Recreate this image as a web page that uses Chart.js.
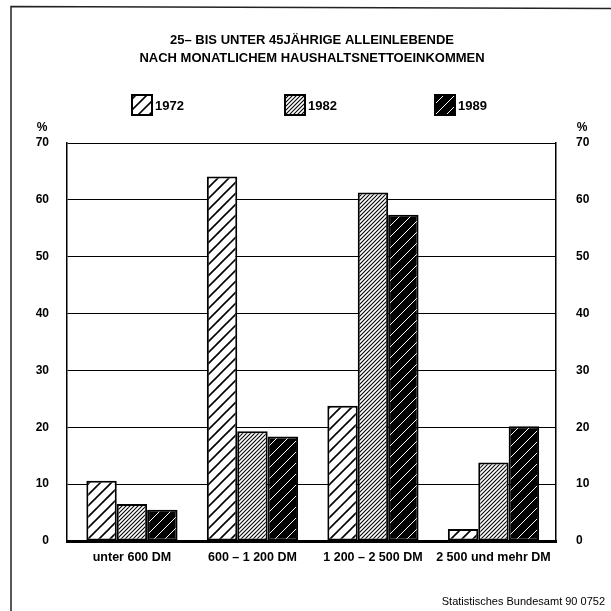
<!DOCTYPE html>
<html><head><meta charset="utf-8">
<script src="https://cdn.jsdelivr.net/npm/chart.js@4"></script>
<style>html,body{margin:0;padding:0;background:#fff;} canvas{display:block}</style>
</head><body>
<canvas id="c" width="611" height="611"></canvas>
<script>
const categories = ['unter 600 DM', '600 – 1 200 DM', '1 200 – 2 500 DM', '2 500 und mehr DM'];
const seriesNames = ['1972', '1982', '1989'];
const series1972 = [10.6, 64.1, 23.8, 2.1];
const series1982 = [6.5, 19.3, 61.3, 13.8];
const series1989 = [5.5, 18.4, 57.4, 20.2];
const yTicks = [0, 10, 20, 30, 40, 50, 60, 70];
const titleLines = ['25– BIS UNTER 45JÄHRIGE ALLEINLEBENDE', 'NACH MONATLICHEM HAUSHALTSNETTOEINKOMMEN'];
const unitLabel = '%';
const sourceText = 'Statistisches Bundesamt 90 0752';

const FAM = '"Liberation Sans", Arial, sans-serif';

function hatch(bg, fg, sp, lw, reps) {
  const T = sp * reps;
  const c = document.createElement('canvas');
  c.width = T; c.height = T;
  const g = c.getContext('2d');
  g.fillStyle = bg; g.fillRect(0, 0, T, T);
  g.strokeStyle = fg; g.lineWidth = lw;
  for (let k = -1; k <= 2 * reps + 1; k++) {
    const cc = k * sp;
    g.beginPath();
    g.moveTo(cc + 3, -3);
    g.lineTo(cc - T - 3, T + 3);
    g.stroke();
  }
  return document.createElement('canvas').getContext('2d').createPattern(c, 'repeat');
}
const patterns = [
  hatch('#ffffff', '#000000', 11, 1.6, 2),
  hatch('#ffffff', '#000000', 4, 1.1, 4),
  hatch('#000000', '#ffffff', 11, 1.0, 2)
];

const decor = {
  id: 'decor',
  beforeDraw(chart) {
    const ctx = chart.ctx;
    ctx.save();
    ctx.fillStyle = '#fff';
    ctx.fillRect(0, 0, chart.width, chart.height);
    ctx.restore();
  },
  afterDraw(chart) {
    const ctx = chart.ctx;
    ctx.save();
    // outer frame
    ctx.strokeStyle = '#222';
    ctx.lineWidth = 1.5;
    ctx.beginPath();
    ctx.moveTo(11, 611); ctx.lineTo(11, 6.5); ctx.lineTo(611, 8.5);
    ctx.stroke();
    // title
    ctx.fillStyle = '#000';
    ctx.font = 'bold 13px ' + FAM;
    ctx.textAlign = 'center';
    ctx.textBaseline = 'middle';
    ctx.fillText(titleLines[0], 312, 40);
    ctx.fillText(titleLines[1], 312, 58);
    // legend
    const lx = [132, 285, 435];
    ctx.font = 'bold 13px ' + FAM;
    ctx.textAlign = 'left';
    seriesNames.forEach((n, i) => {
      ctx.fillStyle = patterns[i];
      ctx.fillRect(lx[i], 95, 20, 20);
      ctx.strokeStyle = '#000'; ctx.lineWidth = 2;
      ctx.strokeRect(lx[i], 95, 20, 20);
      ctx.fillStyle = '#000';
      ctx.fillText(n, lx[i] + 23, 106);
    });
    // unit labels
    ctx.font = 'bold 12px ' + FAM;
    ctx.textAlign = 'center';
    ctx.fillText(unitLabel, 42, 128);
    ctx.fillText(unitLabel, 582, 128);
    // source
    ctx.font = '11px ' + FAM;
    ctx.textAlign = 'right';
    ctx.fillText(sourceText, 605, 602);
    ctx.restore();
  }
};

const tickFont = { family: FAM, size: 12, weight: 'bold' };
const catFont = { family: FAM, size: 12.5, weight: 'bold' };

new Chart(document.getElementById('c'), {
  type: 'bar',
  data: {
    labels: categories,
    datasets: [series1972, series1982, series1989].map((d, i) => ({
      label: seriesNames[i],
      data: d,
      backgroundColor: patterns[i],
      borderColor: '#000',
      borderWidth: 2,
      borderSkipped: false,
      yAxisID: 'y'
    }))
  },
  options: {
    responsive: false,
    animation: false,
    devicePixelRatio: 1,
    layout: { padding: { top: 143, left: 0, right: 0, bottom: 0 } },
    plugins: { legend: { display: false }, title: { display: false }, tooltip: { enabled: false } },
    datasets: { bar: { categoryPercentage: 0.757, barPercentage: 1 } },
    scales: {
      x: {
        type: 'category',
        offset: true,
        grid: { display: false, drawTicks: false },
        border: { display: true, color: '#000', width: 3 },
        ticks: { font: catFont, color: '#000', padding: 9, maxRotation: 0, autoSkip: false },
        afterFit(s) { s.height = 70; },
        afterBuildTicks(s) { s._startValue = -0.539; s._valueRange = 4.058; }
      },
      y: {
        position: 'left',
        min: 0, max: 70,
        afterBuildTicks(s) { s.ticks = yTicks.map(v => ({ value: v })); },
        ticks: { font: tickFont, color: '#000', padding: 18 },
        grid: { color: '#000', lineWidth: 1, drawTicks: false },
        border: { display: true, color: '#000', width: 1.5 },
        afterFit(s) { s.width = 67; }
      },
      y2: {
        position: 'right',
        min: 0, max: 70,
        afterBuildTicks(s) { s.ticks = yTicks.map(v => ({ value: v })); },
        ticks: { font: tickFont, color: '#000', padding: 20 },
        grid: { display: false, drawTicks: false },
        border: { display: true, color: '#000', width: 1.5 },
        afterFit(s) { s.width = 55; }
      }
    }
  },
  plugins: [decor]
});
</script>
</body></html>
